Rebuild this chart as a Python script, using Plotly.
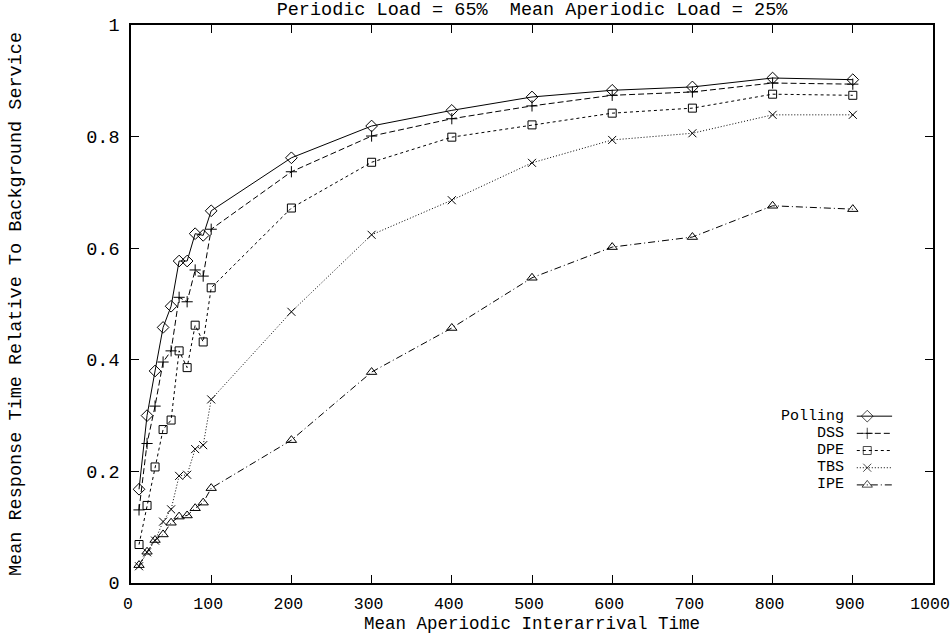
import plotly.graph_objects as go

# ---- data ----
interarrival = [10, 20, 30, 40, 50, 60, 70, 80, 90, 100, 200, 300, 400, 500, 600, 700, 800, 900]
polling = [0.168, 0.300, 0.380, 0.458, 0.496, 0.577, 0.577, 0.626, 0.623, 0.667, 0.762, 0.819, 0.847, 0.871, 0.883, 0.889, 0.905, 0.902]
dss = [0.131, 0.250, 0.317, 0.396, 0.416, 0.512, 0.504, 0.561, 0.550, 0.634, 0.737, 0.801, 0.832, 0.855, 0.874, 0.880, 0.896, 0.894]
dpe = [0.069, 0.139, 0.208, 0.275, 0.292, 0.416, 0.386, 0.462, 0.432, 0.529, 0.672, 0.754, 0.799, 0.821, 0.842, 0.851, 0.876, 0.874]
tbs = [0.030, 0.055, 0.076, 0.110, 0.132, 0.192, 0.194, 0.240, 0.247, 0.329, 0.486, 0.624, 0.686, 0.753, 0.794, 0.806, 0.839, 0.839]
ipe = [0.032, 0.056, 0.077, 0.087, 0.108, 0.119, 0.121, 0.134, 0.144, 0.170, 0.256, 0.378, 0.457, 0.547, 0.602, 0.620, 0.676, 0.670]

series_names = ["Polling", "DSS", "DPE", "TBS", "IPE"]
series_values = [polling, dss, dpe, tbs, ipe]
x_ticks = [0, 100, 200, 300, 400, 500, 600, 700, 800, 900, 1000]
y_ticks = [0, 0.2, 0.4, 0.6, 0.8, 1]
y_tick_labels = ["0", "0.2", "0.4", "0.6", "0.8", "1"]

title_text = "Periodic Load = 65%  Mean Aperiodic Load = 25%"
x_title = "Mean Aperiodic Interarrival Time"
y_title = "Mean Response Time Relative To Background Service"

# ---- styles ----
FONT = "Liberation Mono, Courier New, monospace"
FS = 18.5
TICK_FS = 16.5
XTITLE_FS = 17.5
KEY_FS = 15
symbols = ["diamond-open", "cross-thin-open", "square-open", "x-thin-open", "triangle-up-open"]
dashes = ["solid", "6px,3px", "3px,3px", "1px,2px", "7px,3px,1px,3px"]
msizes = [9, 8, 8, 8, 9]

fig = go.Figure()
for name, vals, sym, dash, ms in zip(series_names, series_values, symbols, dashes, msizes):
    fig.add_trace(go.Scatter(
        x=interarrival, y=vals, name=name, mode="lines+markers",
        line=dict(color="black", width=1, dash=dash),
        marker=dict(symbol=sym, size=ms, color="black", line=dict(color="black", width=1)),
        showlegend=False,
    ))

# ---- gnuplot-style key (text left of sample) on an overlay axis in [0,1] ----
key_top = 0.299
key_step = 0.0308
key_text_right = 0.890
key_line = [0.905, 0.918, 0.949]
for i, (name, sym, dash, ms) in enumerate(zip(series_names, symbols, dashes, msizes)):
    yk = key_top - i * key_step
    fig.add_trace(go.Scatter(
        x=key_line, y=[yk] * 3, xaxis="x2", yaxis="y2", mode="lines+markers",
        line=dict(color="black", width=1, dash=dash),
        marker=dict(symbol=sym, size=[0, ms, 0], color="black", line=dict(color="black", width=1)),
        showlegend=False, hoverinfo="skip",
    ))
    fig.add_annotation(x=key_text_right, y=yk, xref="x2", yref="y2", text=name,
                       showarrow=False, xanchor="right", yanchor="middle",
                       borderpad=0,
                       font=dict(family=FONT, size=KEY_FS, color="black"))

axis_common = dict(
    showgrid=False, zeroline=False, showline=True, linecolor="black", linewidth=1.5,
    mirror="allticks", ticks="inside", ticklen=8, tickwidth=1, tickcolor="black",
    ticklabeloverflow="allow", automargin=False,
)

fig.update_layout(
    width=950, height=636,
    margin=dict(l=131, r=17, t=25, b=53),
    paper_bgcolor="white", plot_bgcolor="white",
    title=dict(text=title_text, x=0.5, xref="paper", xanchor="center",
               y=1 - 9 / 636, yref="container", yanchor="middle",
               font=dict(family=FONT, size=FS, color="black")),
    xaxis=dict(range=[0, 1000], tickvals=x_ticks, ticklabelstandoff=4, ticklabelshift=-3,
               tickfont=dict(family=FONT, size=TICK_FS, color="black"),
               title=dict(text=x_title, standoff=0, font=dict(family=FONT, size=XTITLE_FS, color="black")),
               **axis_common),
    yaxis=dict(range=[0, 1], tickvals=y_ticks, ticktext=y_tick_labels, ticklabelstandoff=6,
               tickfont=dict(family=FONT, size=FS, color="black"),
               title=dict(text=y_title, standoff=60, font=dict(family=FONT, size=FS, color="black")),
               **axis_common),
    xaxis2=dict(range=[0, 1], overlaying="x", visible=False, fixedrange=True, automargin=False),
    yaxis2=dict(range=[0, 1], overlaying="y", visible=False, fixedrange=True, automargin=False),
    showlegend=False,
)

fig.write_html("out.html")
